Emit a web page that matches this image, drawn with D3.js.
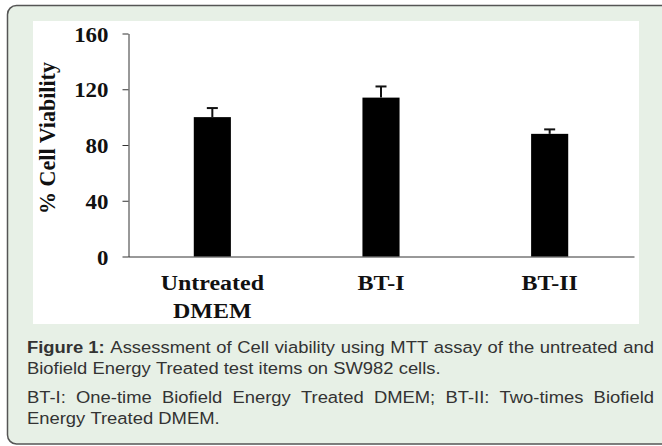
<!DOCTYPE html>
<html>
<head>
<meta charset="utf-8">
<script src="https://cdn.jsdelivr.net/npm/d3@7"></script>
<style>
  html, body { margin: 0; padding: 0; background: #fff; }
  svg { display: block; }
</style>
</head>
<body>
<div id="chart"></div>
<script>
// Cell viability bar chart (MTT assay), Figure 1

const categories = ["Untreated DMEM", "BT-I", "BT-II"];
const labelLines = [["Untreated", "DMEM"], ["BT-I"], ["BT-II"]];
const viability = [100, 114, 88];
const errors = [6.5, 8, 3.2];
const yTicks = [0, 40, 80, 120, 160];
const yLabel = "% Cell Viability";

const captionParas = [
  [{bold: "Figure 1:", text: " Assessment of Cell viability using MTT assay of the untreated and"},
   {text: "Biofield Energy Treated test items on SW982 cells.", last: true}],
  [{text: "BT-I: One-time Biofield Energy Treated DMEM; BT-II: Two-times Biofield"},
   {text: "Energy Treated DMEM.", last: true}]
];

const W = 662, H = 446;
const stretch = 1.09; // text in the source looks a bit wide

const svg = d3.select("#chart").append("svg")
  .attr("width", W).attr("height", H);

// panel
svg.append("rect").attr("x", 7.5).attr("y", 5.5).attr("width", 690).attr("height", 438.5)
  .attr("rx", 9).attr("fill", "#e7f0e6").attr("stroke", "#555").attr("stroke-width", 1.5);
svg.append("rect").attr("x", 33).attr("y", 21).attr("width", 606).attr("height", 303)
  .attr("fill", "#fff");

const x = d3.scaleBand().domain(categories).range([128, 634])
  .paddingInner(0.78).paddingOuter(0.39);
const y = d3.scaleLinear().domain([0, 160]).range([256.5, 33.5]);

const serif = "'Liberation Serif', 'Times New Roman', serif";

// y axis
const yAxis = svg.append("g").attr("transform", "translate(128.5,0)")
  .call(d3.axisLeft(y).tickValues(yTicks).tickSize(6).tickSizeOuter(0));
yAxis.select(".domain").attr("stroke", "#333");
yAxis.selectAll(".tick line").attr("stroke", "#333");
yAxis.selectAll(".tick text").each(function(d){
  d3.select(this).attr("x", null).attr("dy", null)
    .attr("transform", `translate(-20,7.5) scale(${stretch},1)`);
}).attr("font-family", serif).attr("font-weight", "bold").attr("font-size", 21).attr("fill", "#111");

// x axis
const xAxis = svg.append("g").attr("transform", `translate(0,${y(0)})`)
  .call(d3.axisBottom(x).tickSize(0).tickSizeOuter(0).tickFormat(""));
xAxis.select(".domain").attr("stroke", "#333");

// bars
svg.append("g").selectAll("rect").data(categories).join("rect")
  .attr("x", d => x(d)).attr("width", x.bandwidth())
  .attr("y", (d, i) => y(viability[i])).attr("height", (d, i) => y(0) - y(viability[i]))
  .attr("fill", "#000");

// error bars
const eb = svg.append("g").attr("stroke", "#111").attr("stroke-width", 2);
categories.forEach((c, i) => {
  const cx = x(c) + x.bandwidth() / 2;
  eb.append("line").attr("x1", cx).attr("x2", cx)
    .attr("y1", y(viability[i])).attr("y2", y(viability[i] + errors[i]));
  eb.append("line").attr("x1", cx - 5.5).attr("x2", cx + 5.5)
    .attr("y1", y(viability[i] + errors[i])).attr("y2", y(viability[i] + errors[i]));
});

// category labels
categories.forEach((c, i) => {
  const cx = x(c) + x.bandwidth() / 2;
  labelLines[i].forEach((ln, j) => {
    svg.append("text").text(ln)
      .attr("transform", `translate(${cx},${290 + j * 28}) scale(${stretch},1)`)
      .attr("text-anchor", "middle").attr("font-family", serif)
      .attr("font-weight", "bold").attr("font-size", 22).attr("fill", "#111");
  });
});

// y label
svg.append("text").text(yLabel)
  .attr("transform", "translate(55,138) rotate(-90) scale(1.05,1.05)")
  .attr("text-anchor", "middle").attr("font-family", serif)
  .attr("font-weight", "bold").attr("font-size", 21).attr("fill", "#111");

// caption, justified lines
const sans = "'Liberation Sans', Arial, sans-serif";
const capLeft = 27, capRight = 654, capSize = 16.9;
const baselines = [[353, 374], [403, 424]];

captionParas.forEach((para, p) => {
  para.forEach((line, l) => {
    const g = svg.append("g")
      .attr("transform", `translate(${capLeft},${baselines[p][l]}) scale(${stretch},1)`);
    const words = [];
    if (line.bold) words.push({w: line.bold, b: true});
    line.text.trim().split(/\s+/).forEach(w => words.push({w: w, b: false}));
    const nodes = words.map(o => g.append("text").text(o.w)
      .attr("font-family", sans).attr("font-size", capSize)
      .attr("font-weight", o.b ? "bold" : "normal").attr("fill", "#333"));
    const widths = nodes.map(n => n.node().getComputedTextLength());
    const avail = (capRight - capLeft) / stretch;
    const total = d3.sum(widths);
    const gap = line.last ? capSize * 0.278 : (avail - total) / (words.length - 1);
    let cx = 0;
    nodes.forEach((n, k) => { n.attr("x", cx); cx += widths[k] + gap; });
  });
});
</script>
</body>
</html>
